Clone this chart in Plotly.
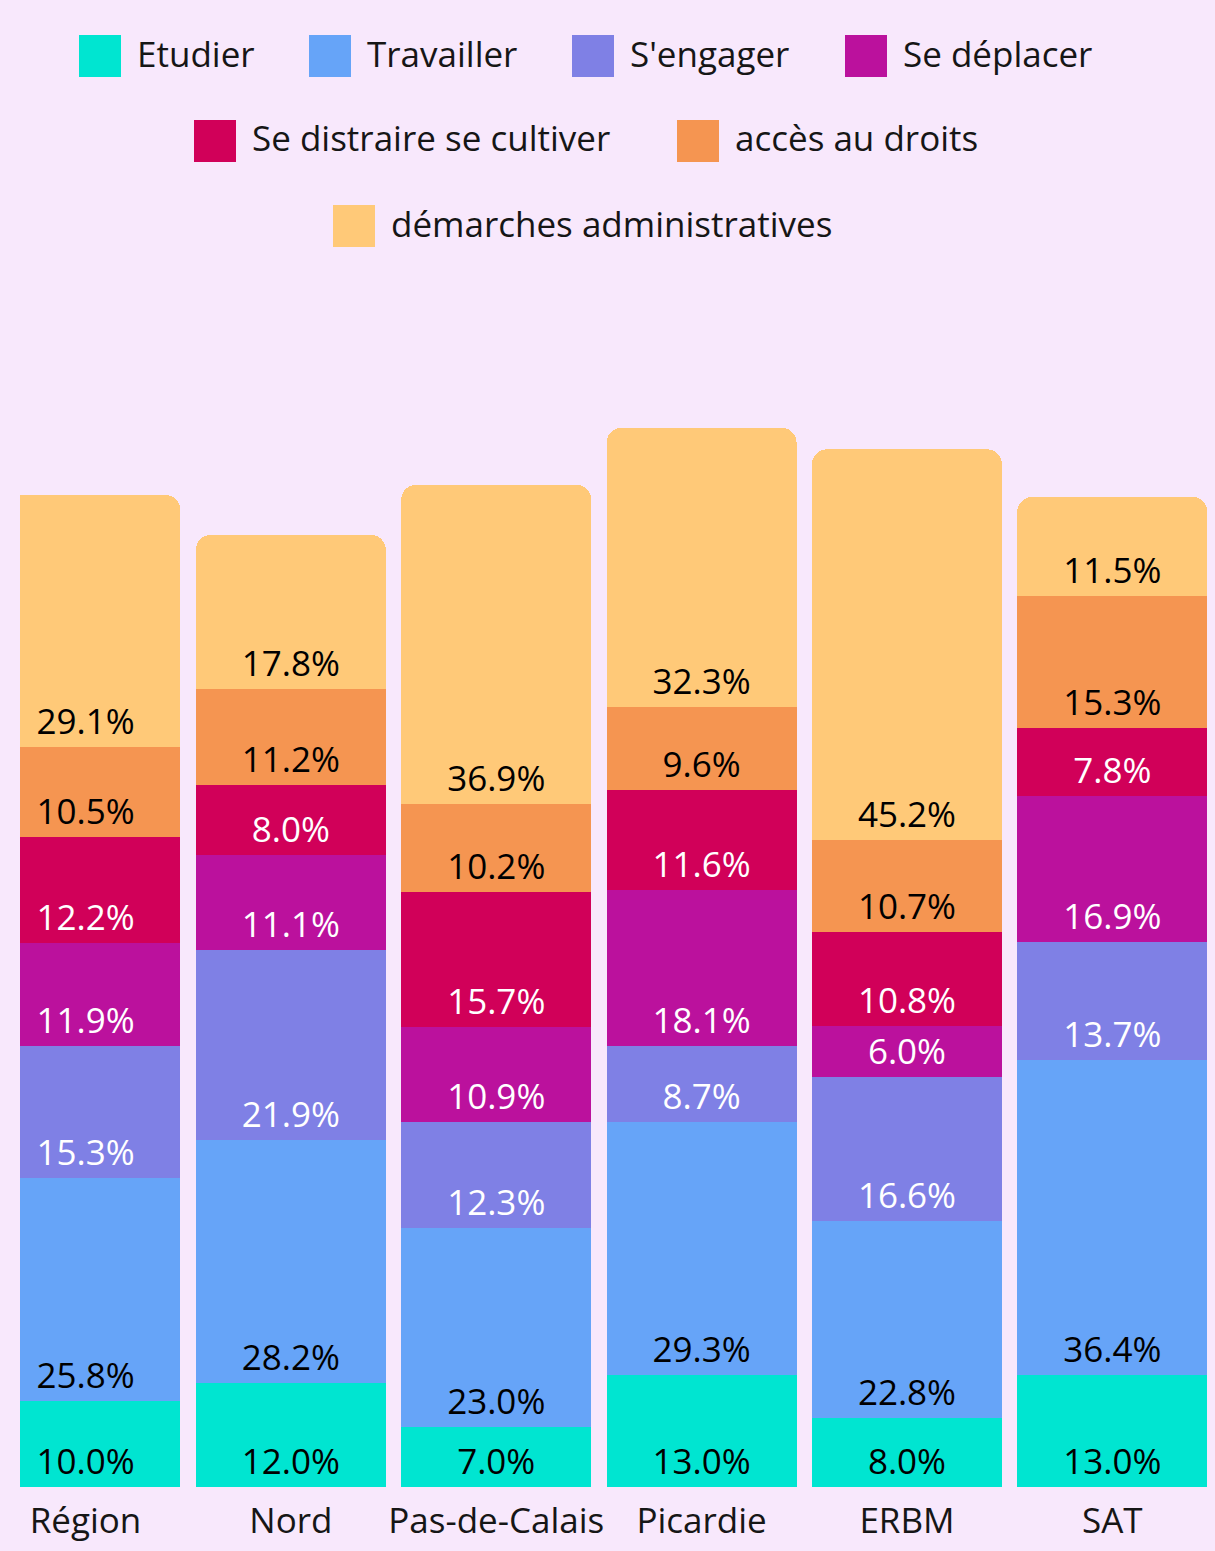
import plotly.graph_objects as go

# ---- data ----
categories = ["Région", "Nord", "Pas-de-Calais", "Picardie", "ERBM", "SAT"]
series_names = ["Etudier", "Travailler", "S'engager", "Se déplacer",
                "Se distraire se cultiver", "accès au droits", "démarches administratives"]
etudier = [10.0, 12.0, 7.0, 13.0, 8.0, 13.0]
travailler = [25.8, 28.2, 23.0, 29.3, 22.8, 36.4]
sengager = [15.3, 21.9, 12.3, 8.7, 16.6, 13.7]
sedeplacer = [11.9, 11.1, 10.9, 18.1, 6.0, 16.9]
sedistraire = [12.2, 8.0, 15.7, 11.6, 10.8, 7.8]
acces = [10.5, 11.2, 10.2, 9.6, 10.7, 15.3]
demarches = [29.1, 17.8, 36.9, 32.3, 45.2, 11.5]
series_values = [etudier, travailler, sengager, sedeplacer, sedistraire, acces, demarches]

colors = ["#00E5D1", "#66A4F8", "#7F80E5", "#BB119D", "#D10059", "#F59551", "#FFC978"]
label_colors = ["#000000", "#000000", "#FFFFFF", "#FFFFFF", "#FFFFFF", "#000000", "#000000"]

FONT = "Open Sans"
W, H = 1215, 1551
ML, MR, MT, MB = 20, 0, 300, 64
PX_PER_UNIT = 8.64
BG = "#F8E8FC"

fig = go.Figure()
for name, vals, col, lcol in zip(series_names, series_values, colors, label_colors):
    fig.add_trace(go.Bar(
        name=name, x=categories, y=vals,
        marker=dict(color=col, line=dict(width=0)),
        texttemplate="%{y:.1f}%",
        textposition="inside",
        insidetextanchor="start",
        constraintext="none",
        textfont=dict(family=FONT, size=35, color=lcol),
        showlegend=False,
        hoverinfo="skip",
    ))

plot_h = H - MT - MB
plot_w = W - ML - MR

def px2paper_x(px):
    return (px - ML) / plot_w

def px2paper_y(py):
    return (H - MB - py) / plot_h

# ---- custom legend (large swatches) ----
legend_layout = [  # (series index, swatch left px, row center y px)
    (0, 79, 56), (1, 309, 56), (2, 572, 56), (3, 845, 56),
    (4, 194, 141), (5, 677, 141),
    (6, 333, 226),
]
SW = 42
shapes = []
annotations = []
for idx, x0, yc in legend_layout:
    shapes.append(dict(
        type="rect", xref="paper", yref="paper",
        x0=px2paper_x(x0), x1=px2paper_x(x0 + SW),
        y0=px2paper_y(yc + SW / 2), y1=px2paper_y(yc - SW / 2),
        fillcolor=colors[idx], line=dict(width=0), layer="above",
    ))
    annotations.append(dict(
        xref="paper", yref="paper",
        x=px2paper_x(x0 + SW + 14), y=px2paper_y(yc - 3),
        xanchor="left", yanchor="middle",
        text=series_names[idx], showarrow=False,
        font=dict(family=FONT, size=35, color="#161616"),
    ))

fig.update_layout(
    width=W, height=H,
    margin=dict(l=ML, r=MR, t=MT, b=MB, pad=0),
    barmode="stack",
    bargap=0.075,
    barcornerradius=15,
    paper_bgcolor=BG,
    plot_bgcolor=BG,
    showlegend=False,
    shapes=shapes,
    annotations=annotations,
    font=dict(family=FONT, color="#161616"),
    xaxis=dict(
        range=[-0.319, 5.5],
        showgrid=False, zeroline=False, showline=False, ticks="",
        ticklabelstandoff=10,
        tickfont=dict(family=FONT, size=35, color="#161616"),
        fixedrange=True,
    ),
    yaxis=dict(
        range=[0, plot_h / PX_PER_UNIT],
        showgrid=False, zeroline=False, showline=False,
        showticklabels=False, ticks="", fixedrange=True,
    ),
)

fig.write_html("out.html", config={"displayModeBar": False},
               post_script="document.body.style.margin='0';")
